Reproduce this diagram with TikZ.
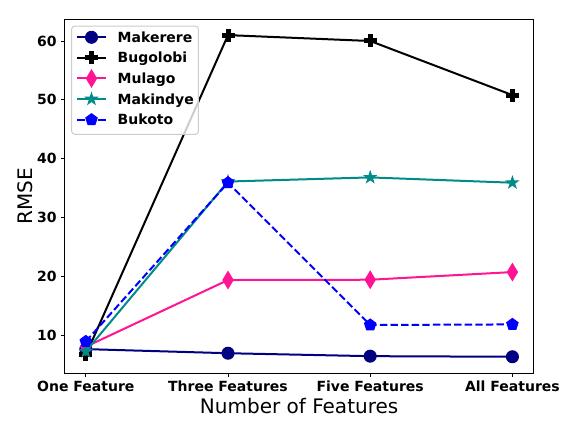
\documentclass[tikz,border=0pt]{standalone}
\usepackage{fontspec}
\setmainfont{DejaVu Sans}
\usetikzlibrary{shapes.geometric}
\definecolor{navyc}{HTML}{000080}
\definecolor{pinkc}{HTML}{FF1493}
\definecolor{tealc}{HTML}{008B8B}
\definecolor{bluec}{HTML}{0000FF}
\definecolor{legedge}{HTML}{CCCCCC}
\tikzset{
 series/.style={line width=2pt, line join=round},
 mk/.style={inner sep=0pt, outer sep=0pt, line width=1pt},
 mcircle/.style={mk, circle, minimum size=12pt, fill=navyc, draw=navyc},
 mplush/.style={mk, rectangle, minimum width=12pt, minimum height=4pt, fill=black, draw=black},
 mplusv/.style={mk, rectangle, minimum width=4pt, minimum height=12pt, fill=black, draw=black},
 mdiam/.style={mk, diamond, minimum width=10.2pt, minimum height=17pt, fill=pinkc, draw=pinkc},
 mstar/.style={mk, star, star points=5, star point ratio=2.618, minimum size=12pt, fill=tealc, draw=tealc},
 mpent/.style={mk, regular polygon, regular polygon sides=5, minimum size=12pt, fill=bluec, draw=bluec},
 ticklab/.style={font=\fontsize{14}{16}\selectfont\bfseries, inner sep=0pt},
 axlab/.style={font=\fontsize{20}{24}\selectfont, inner sep=0pt},
 leglab/.style={font=\fontsize{14}{16}\selectfont\bfseries, inner sep=0pt, anchor=base west},
 dashline/.style={dash pattern=on 7.4pt off 3.2pt},
 tickmark/.style={line width=0.8pt},
}
\begin{document}
\begin{tikzpicture}[x=1pt,y=1pt]
\useasboundingbox (0,0) rectangle (576,432);
\fill[white] (0,0) rectangle (576,432);

% data
\begin{scope}[x=142.2pt, y=5.88pt, shift={(85.8pt,38.2pt)}]
 % Makerere
 \coordinate (a0) at (0,7.6); \coordinate (a1) at (1,6.9);
 \coordinate (a2) at (2,6.4); \coordinate (a3) at (3,6.3);
 \draw[series, navyc] (a0) -- (a1) -- (a2) -- (a3);
 \node[mcircle] (ma0) at (a0) {}; \node[mcircle] (ma1) at (a1) {};
 \node[mcircle] (ma2) at (a2) {}; \node[mcircle] (ma3) at (a3) {};
 % Bugolobi
 \coordinate (b0) at (0,6.6); \coordinate (b1) at (1,61.0);
 \coordinate (b2) at (2,60.0); \coordinate (b3) at (3,50.8);
 \draw[series, black] (b0) -- (b1) -- (b2) -- (b3);
 \node[mplush] (mb0h) at (b0) {}; \node[mplusv] (mb0v) at (b0) {};
 \node[mplush] (mb1h) at (b1) {}; \node[mplusv] (mb1v) at (b1) {};
 \node[mplush] (mb2h) at (b2) {}; \node[mplusv] (mb2v) at (b2) {};
 \node[mplush] (mb3h) at (b3) {}; \node[mplusv] (mb3v) at (b3) {};
 % Mulago
 \coordinate (c0) at (0,8.0); \coordinate (c1) at (1,19.35);
 \coordinate (c2) at (2,19.4); \coordinate (c3) at (3,20.7);
 \draw[series, pinkc] (c0) -- (c1) -- (c2) -- (c3);
 \node[mdiam] (mc0) at (c0) {}; \node[mdiam] (mc1) at (c1) {};
 \node[mdiam] (mc2) at (c2) {}; \node[mdiam] (mc3) at (c3) {};
 % Makindye
 \coordinate (d0) at (0,7.2); \coordinate (d1) at (1,36.1);
 \coordinate (d2) at (2,36.8); \coordinate (d3) at (3,35.9);
 \draw[series, tealc] (d0) -- (d1) -- (d2) -- (d3);
 \node[mstar] (md0) at (d0) {}; \node[mstar] (md1) at (d1) {};
 \node[mstar] (md2) at (d2) {}; \node[mstar] (md3) at (d3) {};
 % Bukoto
 \coordinate (e0) at (0,8.9); \coordinate (e1) at (1,35.9);
 \coordinate (e2) at (2,11.7); \coordinate (e3) at (3,11.8);
 \draw[series, bluec, dashline] (e0) -- (e1) -- (e2) -- (e3);
 \node[mpent] (me0) at (e0) {}; \node[mpent] (me1) at (e1) {};
 \node[mpent] (me2) at (e2) {}; \node[mpent] (me3) at (e3) {};
\end{scope}

% axes frame
\draw[line width=0.8pt] (64.5,58.7) rectangle (533.7,412.3);

% x ticks
\foreach \xx/\lab [count=\i] in {85.8/One Feature, 228/Three Features, 370.2/Five Features, 512.4/All Features}{
 \draw[tickmark] (\xx,58.7) -- (\xx,55.2);
 \node[ticklab, anchor=base] (xt\i) at (\xx,41) {\lab};
}
% y ticks
\foreach \yy/\lab [count=\i] in {97/10, 155.8/20, 214.6/30, 273.4/40, 332.2/50, 391/60}{
 \draw[tickmark] (64.5,\yy) -- (61,\yy);
 \node[ticklab, anchor=east] (yt\i) at (56.8,\yy) {\lab};
}
% axis labels
\node[axlab, anchor=base] (xlabel) at (299.1,18.7) {Number of Features};
\node[axlab, rotate=90] (ylabel) at (25.3,235.5) {RMSE};

% legend
\draw[legedge, fill=white, fill opacity=0.8, rounded corners=3pt, line width=1pt] (71.7,297.7) rectangle (198.3,405.9);
\coordinate (l1s) at (77.2,394.7); \coordinate (l1e) at (105.8,394.7);
\draw[series, navyc] (l1s) -- (l1e);
\node[mcircle] (lm1) at (91.5,394.7) {};
\node[leglab] (lt1) at (117.5,389.6) {Makerere};

\coordinate (l2s) at (77.2,374.1); \coordinate (l2e) at (105.8,374.1);
\draw[series, black] (l2s) -- (l2e);
\node[mplush] (lm2h) at (91.5,374.1) {}; \node[mplusv] (lm2v) at (91.5,374.1) {};
\node[leglab] (lt2) at (117.5,369.0) {Bugolobi};

\coordinate (l3s) at (77.2,353.5); \coordinate (l3e) at (105.8,353.5);
\draw[series, pinkc] (l3s) -- (l3e);
\node[mdiam] (lm3) at (91.5,353.5) {};
\node[leglab] (lt3) at (117.5,348.4) {Mulago};

\coordinate (l4s) at (77.2,332.9); \coordinate (l4e) at (105.8,332.9);
\draw[series, tealc] (l4s) -- (l4e);
\node[mstar] (lm4) at (91.5,332.9) {};
\node[leglab] (lt4) at (117.5,327.8) {Makindye};

\coordinate (l5s) at (77.2,312.3); \coordinate (l5e) at (105.8,312.3);
\draw[series, bluec, dashline] (l5s) -- (l5e);
\node[mpent] (lm5) at (91.5,312.3) {};
\node[leglab] (lt5) at (117.5,307.2) {Bukoto};
\end{tikzpicture}
\end{document}
